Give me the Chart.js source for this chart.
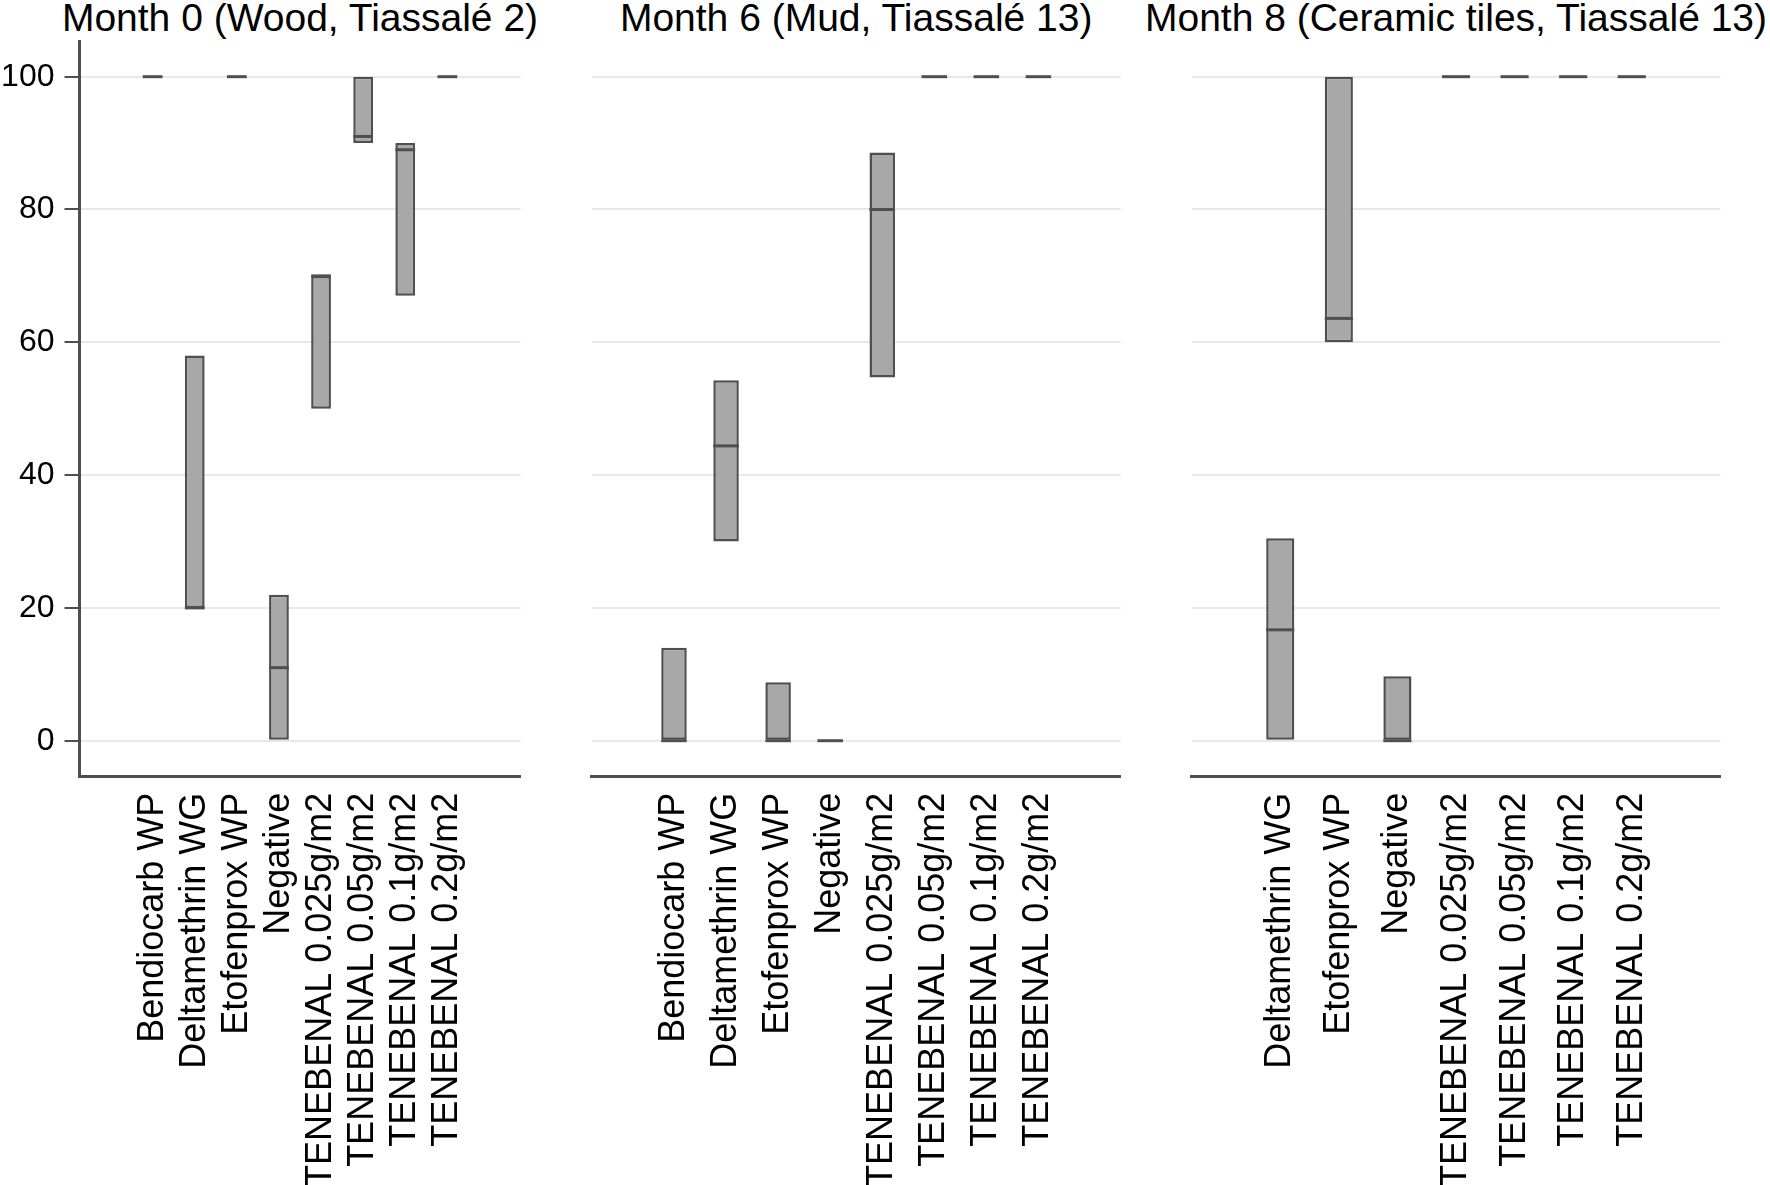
<!DOCTYPE html>
<html>
<head>
<meta charset="utf-8">
<script src="https://cdn.jsdelivr.net/npm/chart.js@4.4.1/dist/chart.umd.min.js"></script>
<style>
  body { margin: 0; background: #fff; width: 1770px; height: 1185px; overflow: hidden; position: relative; font-family: 'Liberation Sans', Arial, sans-serif; }
  canvas { position: absolute; left: 0; top: 0; }
  .title { position: absolute; top: -2px; width: 800px; text-align: center; font-size: 39px; line-height: 39px; color: #000; white-space: nowrap; }
</style>
</head>
<body>
<div class="title" id="t0"></div>
<div class="title" id="t6"></div>
<div class="title" id="t8"></div>
<canvas id="c0" width="1770" height="1185"></canvas>
<canvas id="c6" width="1770" height="1185"></canvas>
<canvas id="c8" width="1770" height="1185"></canvas>
<script>
// categories
const catsAll = ['Bendiocarb WP', 'Deltamethrin WG', 'Etofenprox WP', 'Negative', 'TENEBENAL 0.025g/m2', 'TENEBENAL 0.05g/m2', 'TENEBENAL 0.1g/m2', 'TENEBENAL 0.2g/m2']
const catsM8 = ['Deltamethrin WG', 'Etofenprox WP', 'Negative', 'TENEBENAL 0.025g/m2', 'TENEBENAL 0.05g/m2', 'TENEBENAL 0.1g/m2', 'TENEBENAL 0.2g/m2']

// month 0 (wood)
const m0Low = [100, 20, 100, 0, 50, 90, 67, 100]
const m0Median = [100, 20, 100, 11, 70, 91, 89, 100]
const m0High = [100, 58, 100, 22, 70, 100, 90, 100]

// month 6 (mud)
const m6Low = [0, 30, 0, 0, 54.7, 100, 100, 100]
const m6Median = [0, 44.4, 0, 0, 80, 100, 100, 100]
const m6High = [14, 54.3, 8.8, 0, 88.6, 100, 100, 100]

// month 8 (ceramic tiles)
const m8Low = [0, 60, 0, 100, 100, 100, 100]
const m8Median = [16.7, 63.6, 0, 100, 100, 100, 100]
const m8High = [30.5, 100, 9.7, 100, 100, 100, 100]

const yTicks = [0, 20, 40, 60, 80, 100]
const titles = ['Month 0 (Wood, Tiassalé 2)', 'Month 6 (Mud, Tiassalé 13)', 'Month 8 (Ceramic tiles, Tiassalé 13)']

const FONT = "'Liberation Sans', Arial, sans-serif"
const EDGE = '#4f4f4f'

function makePanel(id, titleId, title, cats, low, med, high, p) {
  // median line (and the flat dashes) drawn on top of the bars
  const medianLines = {
    id: 'medianLines',
    afterDatasetsDraw(chart) {
      const y = chart.scales.y
      const ctx = chart.ctx
      ctx.save()
      ctx.strokeStyle = EDGE
      ctx.lineWidth = 3
      chart.getDatasetMeta(0).data.forEach((bar, i) => {
        const py = y.getPixelForValue(med[i])
        ctx.beginPath()
        ctx.moveTo(bar.x - bar.width / 2, py)
        ctx.lineTo(bar.x + bar.width / 2, py)
        ctx.stroke()
      })
      ctx.restore()
    }
  }

  const chart = new Chart(document.getElementById(id), {
    type: 'bar',
    data: {
      datasets: [{
        data: cats.map((c, i) => ({ x: i, y: [low[i], high[i]] })),
        backgroundColor: '#a8a8a8',
        borderColor: EDGE,
        borderWidth: 2.5,
        borderSkipped: false,
        categoryPercentage: 1,
        barPercentage: p.bar
      }]
    },
    options: {
      responsive: false,
      animation: false,
      layout: { padding: { left: p.left, right: p.right, top: 41.7, bottom: 0 } },
      plugins: { legend: { display: false }, tooltip: { enabled: false } },
      scales: {
        x: {
          type: 'linear',
          min: -p.gap,
          max: cats.length - 1 + p.gap,
          grid: { display: false },
          border: { display: true, color: EDGE, width: 3 },
          afterBuildTicks: axis => { axis.ticks = cats.map((c, i) => ({ value: i })) },
          afterFit: axis => { axis.height = 408.3 },
          ticks: {
            autoSkip: false,
            minRotation: 90,
            maxRotation: 90,
            padding: 8,
            color: '#000',
            font: { family: FONT, size: 36 },
            callback: v => cats[v]
          }
        },
        y: {
          min: -5.42,
          max: 105.27,
          afterBuildTicks: axis => { axis.ticks = yTicks.map(v => ({ value: v })) },
          afterFit: axis => { axis.width = p.yWidth },
          grid: {
            color: '#e8e8e8',
            lineWidth: 2,
            drawTicks: p.showY,
            tickColor: EDGE,
            tickWidth: 2,
            tickLength: 15
          },
          border: { display: p.showY, color: EDGE, width: 3 },
          ticks: {
            display: p.showY,
            padding: 10,
            color: '#000',
            font: { family: FONT, size: 32 }
          }
        }
      }
    },
    plugins: [medianLines]
  })

  const t = document.getElementById(titleId)
  t.textContent = title
  const mid = (chart.chartArea.left + chart.chartArea.right) / 2
  t.style.left = (mid - 400) + 'px'
  return chart
}

makePanel('c0', 't0', titles[0], catsAll, m0Low, m0Median, m0High,
  { left: 0, right: 1249.5, yWidth: 79.5, showY: true, gap: 1.083, bar: 0.47 })
makePanel('c6', 't6', titles[1], catsAll, m6Low, m6Median, m6High,
  { left: 591.8, right: 649.4, yWidth: 0, showY: false, gap: 0.944, bar: 0.49 })
makePanel('c8', 't8', titles[2], catsM8, m8Low, m8Median, m8High,
  { left: 1191.7, right: 49.7, yWidth: 0, showY: false, gap: 0.867, bar: 0.48 })
</script>
</body>
</html>
